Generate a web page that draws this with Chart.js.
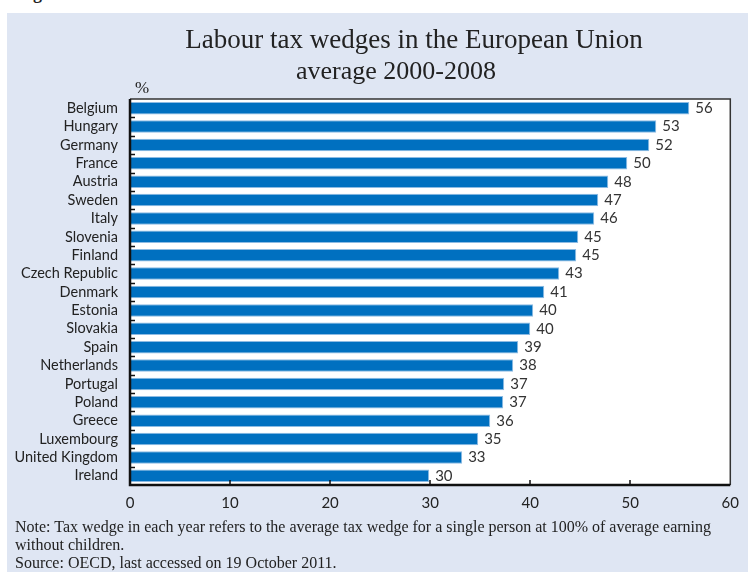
<!DOCTYPE html>
<html>
<head>
<meta charset="utf-8">
<script src="https://cdn.jsdelivr.net/npm/chart.js@4.4.1/dist/chart.umd.min.js"></script>
<style>
  html, body { margin: 0; padding: 0; background: #fff; }
  #wrap { position: relative; width: 748px; height: 572px; overflow: hidden; }
  #panel { position: absolute; left: 7px; top: 13px; right: 0; bottom: 0; background: #dfe6f3; }
  #myChart { position: absolute; left: 0; top: 0; }
  .txt { position: absolute; font-family: "Liberation Serif", "Times New Roman", serif; color: #222; white-space: nowrap; line-height: 1; }
  .ctr { transform: translateX(-50%); }
</style>
</head>
<body>
<div id="wrap">
  <div class="txt" style="left:17px; top:-16px; font-size:18px; font-weight:bold;">Figure</div>
  <div id="panel"></div>
  <canvas id="myChart" width="748" height="572"></canvas>
  <div class="txt ctr" style="left:414px; top:26px; font-size:27px;">Labour tax wedges in the European Union</div>
  <div class="txt ctr" style="left:396px; top:58px; font-size:26px;">average 2000-2008</div>
  <div class="txt" style="left:135px; top:79px; font-size:17px;">%</div>
  <div class="txt" style="left:15px; top:518px; font-size:16px; line-height:18px;">Note: Tax wedge in each year refers to the average tax wedge for a single person at 100% of average earning<br>without children.<br>Source: OECD, last accessed on 19 October 2011.</div>
</div>
<script>
var countries = ['Belgium', 'Hungary', 'Germany', 'France', 'Austria', 'Sweden', 'Italy',
  'Slovenia', 'Finland', 'Czech Republic', 'Denmark', 'Estonia', 'Slovakia', 'Spain',
  'Netherlands', 'Portugal', 'Poland', 'Greece', 'Luxembourg', 'United Kingdom', 'Ireland'];
var wedges = [55.9, 52.6, 51.9, 49.7, 47.8, 46.8, 46.4, 44.8, 44.6, 42.9, 41.4,
  40.3, 40.0, 38.8, 38.3, 37.4, 37.3, 36.0, 34.8, 33.2, 29.9];
var xTicks = [0, 10, 20, 30, 40, 50, 60];

// white plot area, frame and inward tick marks
const plotFrame = {
  id: 'plotFrame',
  beforeDatasetsDraw(chart) {
    const {ctx, chartArea: {left, top, width, height}} = chart;
    ctx.save();
    ctx.fillStyle = '#ffffff';
    ctx.fillRect(left, top, width, height);
    ctx.restore();
  },
  afterDatasetsDraw(chart) {
    const {ctx, chartArea: {left, top, right, bottom}, scales: {x, y}} = chart;
    ctx.save();
    // labels at bar ends
    const meta = chart.getDatasetMeta(0);
    ctx.font = '15px Lato, "Open Sans", sans-serif';
    ctx.fillStyle = '#333';
    ctx.textBaseline = 'middle';
    ctx.textAlign = 'left';
    meta.data.forEach(function(bar, i) {
      ctx.fillText(String(Math.round(wedges[i])), bar.x + 6, bar.y);
    });
    // thin top / right border
    ctx.strokeStyle = '#333';
    ctx.lineWidth = 1.5;
    ctx.beginPath();
    ctx.moveTo(left, top);
    ctx.lineTo(right, top);
    ctx.lineTo(right, bottom);
    ctx.stroke();
    // inward ticks
    ctx.strokeStyle = '#111';
    ctx.lineWidth = 1.5;
    ctx.beginPath();
    for (let i = 1; i < countries.length; i++) {
      const py = Math.round(y.getPixelForValue(i - 0.5)) + 0.5;
      ctx.moveTo(left, py);
      ctx.lineTo(left + 5, py);
    }
    xTicks.forEach(function(v) {
      if (v === xTicks[0] || v === xTicks[xTicks.length - 1]) return;
      const px = Math.round(x.getPixelForValue(v));
      ctx.moveTo(px, bottom);
      ctx.lineTo(px, bottom - 5);
    });
    ctx.stroke();
    // thick left / bottom axes
    ctx.lineWidth = 2.5;
    ctx.beginPath();
    ctx.moveTo(left, top);
    ctx.lineTo(left, bottom);
    ctx.lineTo(right, bottom);
    ctx.stroke();
    ctx.restore();
  }
};

var taxChart = new Chart(document.getElementById('myChart'), {
  type: 'bar',
  data: {
    labels: countries,
    datasets: [{
      data: wedges,
      backgroundColor: '#0070c0',
      borderColor: '#8dbbe3',
      borderWidth: 1,
      barPercentage: 0.68,
      categoryPercentage: 1
    }]
  },
  options: {
    indexAxis: 'y',
    responsive: false,
    animation: false,
    layout: {
      padding: {left: 0, top: 99, right: 11, bottom: 57}
    },
    plugins: {
      legend: {display: false},
      tooltip: {enabled: false}
    },
    scales: {
      x: {
        min: 0,
        max: 60,
        afterFit(scale) { scale.height = 30; },
        afterBuildTicks(scale) { scale.ticks = xTicks.map(v => ({value: v})); },
        grid: {display: false, drawTicks: false},
        border: {display: false},
        ticks: {
          padding: 9,
          color: '#222',
          font: {family: 'Lato, "Open Sans", sans-serif', size: 15}
        }
      },
      y: {
        afterFit(scale) { scale.width = 130; },
        grid: {display: false, drawTicks: false},
        border: {display: false},
        ticks: {
          padding: 12,
          color: '#222',
          autoSkip: false,
          font: {family: 'Lato, "Open Sans", sans-serif', size: 14.5}
        }
      }
    }
  },
  plugins: [plotFrame]
});
</script>
</body>
</html>
